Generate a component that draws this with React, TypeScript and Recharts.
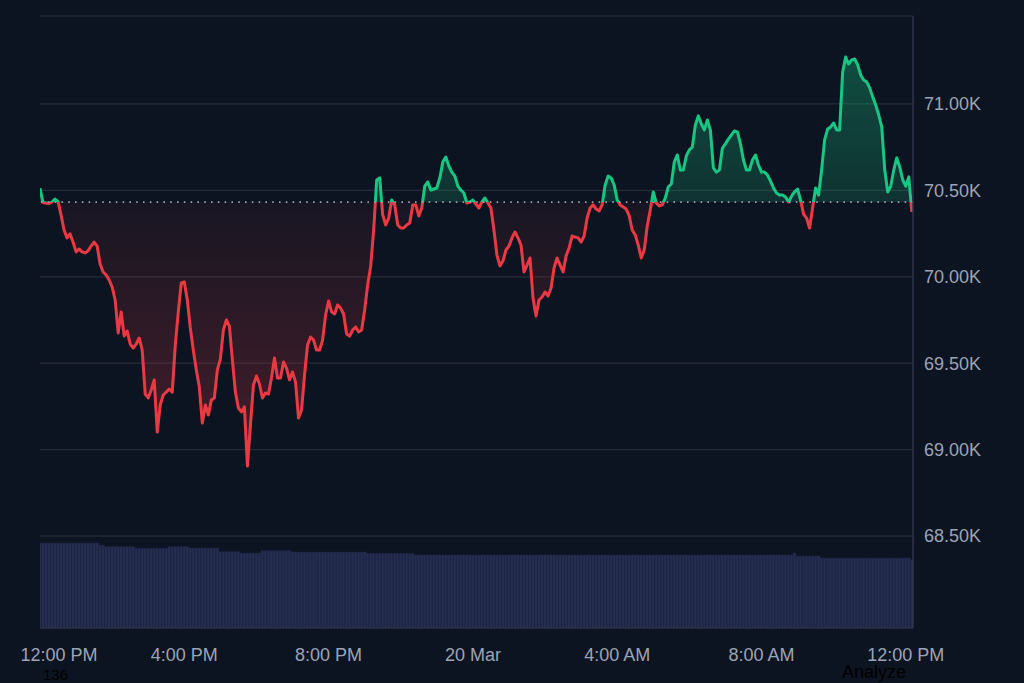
import React from "react";
import {
    ComposedChart,
    Area,
    Bar,
    XAxis,
    YAxis,
    CartesianGrid,
    ReferenceLine,
} from "recharts";

// 5-minute candles, from 12:00 PM (19 Mar) to 12:10 PM (20 Mar)
const STEP_MIN = 5;
const BASELINE = 70432;

// close prices, one row per hour (12 x 5 min)
const PRICES = [
    70512, 70430, 70427, 70424, 70433, 70450, 70435, 70358, 70271, 70225, 70248, 70201,
    70144, 70161, 70144, 70138, 70150, 70178, 70201, 70178, 70074, 70028, 70010, 69981,
    69941, 69866, 69675, 69797, 69657, 69686, 69611, 69588, 69611, 69646, 69576, 69322,
    69299, 69345, 69403, 69102, 69258, 69316, 69333, 69351, 69333, 69605, 69796, 69964,
    69970, 69866, 69704, 69576, 69461, 69362, 69154, 69258, 69200, 69287, 69299, 69461,
    69524, 69692, 69750, 69715, 69518, 69333, 69241, 69218, 69247, 68905, 69142, 69374,
    69426, 69380, 69299, 69328, 69322, 69414, 69530, 69414, 69414, 69507, 69472, 69403,
    69449, 69391, 69183, 69229, 69432, 69605, 69652, 69634, 69576, 69576, 69634, 69779,
    69860, 69797, 69785, 69837, 69819, 69785, 69669, 69657, 69692, 69710, 69681, 69692,
    69808, 69953, 70063, 70271, 70560, 70572, 70358, 70300, 70340, 70444, 70416, 70300,
    70282, 70282, 70300, 70311, 70416, 70416, 70352, 70398, 70525, 70549, 70502, 70508,
    70514, 70572, 70664, 70693, 70641, 70606, 70583, 70525, 70502, 70485, 70427, 70433,
    70444, 70421, 70398, 70433, 70456, 70427, 70398, 70271, 70126, 70063, 70091, 70155,
    70178, 70225, 70259, 70225, 70184, 70028, 70068, 70109, 69877, 69773, 69866, 69883,
    69912, 69889, 69935, 70051, 70109, 70068, 70028, 70120, 70167, 70236, 70230, 70225,
    70201, 70236, 70340, 70398, 70416, 70392, 70381, 70416, 70531, 70583, 70572, 70531,
    70444, 70416, 70404, 70392, 70352, 70271, 70242, 70184, 70109, 70155, 70294, 70387,
    70491, 70427, 70410, 70416, 70456, 70520, 70537, 70664, 70705, 70618, 70618, 70699,
    70734, 70751, 70878, 70931, 70884, 70850, 70907, 70850, 70630, 70606, 70618, 70745,
    70769, 70797, 70821, 70844, 70838, 70769, 70676, 70618, 70618, 70676, 70705, 70647,
    70606, 70606, 70589, 70554, 70514, 70485, 70473, 70473, 70462, 70433, 70467, 70491,
    70508, 70444, 70363, 70340, 70282, 70398, 70514, 70473, 70618, 70792, 70855, 70867,
    70890, 70850, 70850, 71185, 71272, 71231, 71255, 71260, 71226, 71168, 71139, 71127,
    71093, 71041, 70994, 70936, 70867, 70618, 70491, 70525, 70618, 70688, 70635, 70560,
    70525, 70578, 70375,
];

const VOLUMES = [
    1250, 1250, 1250, 1250, 1250, 1250, 1250, 1250, 1250, 1250, 1250, 1250,
    1250, 1250, 1250, 1250, 1250, 1250, 1250, 1250, 1220, 1220, 1196, 1196,
    1196, 1196, 1196, 1196, 1196, 1196, 1196, 1196, 1172, 1172, 1172, 1172,
    1172, 1172, 1172, 1172, 1172, 1172, 1172, 1196, 1196, 1196, 1196, 1196,
    1196, 1196, 1176, 1176, 1176, 1176, 1176, 1176, 1176, 1176, 1176, 1176,
    1122, 1122, 1122, 1122, 1122, 1122, 1122, 1103, 1103, 1103, 1103, 1103,
    1103, 1103, 1137, 1137, 1137, 1137, 1137, 1137, 1137, 1137, 1137, 1137,
    1118, 1118, 1118, 1118, 1118, 1118, 1118, 1118, 1118, 1118, 1118, 1118,
    1118, 1118, 1118, 1118, 1118, 1118, 1118, 1118, 1118, 1118, 1118, 1118,
    1118, 1096, 1096, 1096, 1096, 1096, 1096, 1096, 1096, 1096, 1096, 1096,
    1096, 1096, 1096, 1096, 1096, 1074, 1074, 1074, 1074, 1074, 1074, 1074,
    1074, 1074, 1074, 1074, 1074, 1074, 1074, 1074, 1074, 1074, 1074, 1074,
    1074, 1074, 1074, 1074, 1074, 1074, 1074, 1074, 1074, 1074, 1074, 1074,
    1074, 1074, 1074, 1074, 1074, 1074, 1074, 1074, 1074, 1074, 1074, 1074,
    1074, 1074, 1074, 1074, 1074, 1074, 1074, 1074, 1074, 1074, 1074, 1074,
    1074, 1074, 1074, 1074, 1074, 1074, 1074, 1074, 1074, 1074, 1074, 1074,
    1074, 1074, 1074, 1074, 1074, 1074, 1074, 1074, 1074, 1074, 1074, 1074,
    1074, 1074, 1074, 1074, 1074, 1074, 1074, 1074, 1074, 1074, 1074, 1074,
    1074, 1074, 1074, 1074, 1074, 1074, 1074, 1074, 1074, 1074, 1074, 1074,
    1074, 1074, 1074, 1074, 1074, 1074, 1074, 1074, 1074, 1074, 1074, 1074,
    1074, 1074, 1074, 1074, 1074, 1074, 1074, 1074, 1074, 1074, 1074, 1103,
    1059, 1059, 1059, 1059, 1059, 1059, 1059, 1059, 1029, 1029, 1029, 1029,
    1029, 1029, 1029, 1029, 1029, 1029, 1029, 1029, 1029, 1029, 1029, 1029,
    1029, 1029, 1029, 1029, 1029, 1029, 1029, 1029, 1029, 1029, 1029, 1029,
    1029, 1029, 1000,
];

const TIME_TICKS = [0, 240, 480, 720, 960, 1200, 1440];
const TIME_LABELS = ["12:00 PM", "4:00 PM", "8:00 PM", "20 Mar", "4:00 AM", "8:00 AM", "12:00 PM"];
const PRICE_TICKS = [68500, 69000, 69500, 70000, 70500, 71000];
const PRICE_DOMAIN = [67968, 71509];
const TIME_DOMAIN = [0, 1452];
const VOLUME_DOMAIN = [0, 9000];

const BG = "#0d1421";
const GREEN = "#16c784";
const RED = "#ea3943";
const GRID = "#262b38";
const BORDER = "#30364a";
const TEXT = "#9ca3b5";
const FONT = "'Liberation Sans', Arial, sans-serif";

const data = PRICES.map((price, i) => ({
    t: i * STEP_MIN,
    price,
    volume: VOLUMES[i],
}));

const maxPrice = Math.max(...PRICES);
const minPrice = Math.min(...PRICES);
const split = (maxPrice - BASELINE) / (maxPrice - minPrice);

function TimeTick({ x, y, payload }: any) {
    const idx = TIME_TICKS.indexOf(payload.value);
    // first label is pushed inside the pane, like the original
    const shift = idx === 0 ? 19 : 0;
    return (
        <text
            x={x + shift}
            y={y}
            dy="0.71em"
            textAnchor="middle"
            fill={TEXT}
            fontSize={18}
            fontFamily={FONT}
        >
            {TIME_LABELS[idx]}
        </text>
    );
}

export default function App() {
    return (
        <div
            style={{
                position: "fixed",
                left: 0,
                top: 0,
                width: 1024,
                height: 683,
                background: BG,
                overflow: "hidden",
            }}
        >
            <ComposedChart
                width={1024}
                height={683}
                data={data}
                margin={{ top: 16, right: 31, left: 40, bottom: 15 }}
            >
                <defs>
                    <linearGradient id="lineGrad" x1="0" y1="0" x2="0" y2="1">
                        <stop offset={0} stopColor={GREEN} />
                        <stop offset={split} stopColor={GREEN} />
                        <stop offset={split} stopColor={RED} />
                        <stop offset={1} stopColor={RED} />
                    </linearGradient>
                    <linearGradient id="fillGrad" x1="0" y1="0" x2="0" y2="1">
                        <stop offset={0} stopColor={GREEN} stopOpacity={0.32} />
                        <stop offset={split} stopColor={GREEN} stopOpacity={0.17} />
                        <stop offset={split} stopColor={RED} stopOpacity={0.05} />
                        <stop offset={1} stopColor={RED} stopOpacity={0.26} />
                    </linearGradient>
                </defs>
                <CartesianGrid
                    yAxisId="price"
                    vertical={false}
                    stroke={GRID}
                    strokeWidth={1.2}
                />
                <XAxis
                    dataKey="t"
                    type="number"
                    domain={TIME_DOMAIN}
                    ticks={TIME_TICKS}
                    tick={<TimeTick />}
                    tickLine={false}
                    tickMargin={14}
                    axisLine={{ stroke: BORDER }}
                    height={40}
                    interval={0}
                    allowDataOverflow
                />
                <XAxis
                    xAxisId="top"
                    dataKey="t"
                    type="number"
                    orientation="top"
                    domain={TIME_DOMAIN}
                    height={0}
                    tick={false}
                    tickLine={false}
                    axisLine={{ stroke: BORDER, strokeWidth: 1.5 }}
                />
                <YAxis
                    yAxisId="price"
                    orientation="right"
                    type="number"
                    domain={PRICE_DOMAIN}
                    ticks={PRICE_TICKS}
                    tickFormatter={(v: number) => `${(v / 1000).toFixed(2)}K`}
                    tick={{ fill: TEXT, fontSize: 18, fontFamily: FONT }}
                    tickLine={false}
                    tickMargin={5}
                    axisLine={{ stroke: BORDER, strokeWidth: 1.5 }}
                    width={80}
                    interval={0}
                    allowDataOverflow
                />
                <YAxis
                    yAxisId="vol"
                    orientation="left"
                    type="number"
                    domain={VOLUME_DOMAIN}
                    width={0}
                    tick={false}
                    tickLine={false}
                    axisLine={{ stroke: BORDER, strokeWidth: 1.5 }}
                    allowDataOverflow
                />
                <Bar
                    yAxisId="vol"
                    dataKey="volume"
                    fill="#252e50"
                    stroke="#1c2341"
                    strokeWidth={0.6}
                    barSize={3}
                    isAnimationActive={false}
                />
                <Area
                    yAxisId="price"
                    type="linear"
                    dataKey="price"
                    baseValue={BASELINE}
                    stroke="url(#lineGrad)"
                    strokeWidth={3}
                    strokeLinejoin="round"
                    fill="url(#fillGrad)"
                    fillOpacity={1}
                    dot={false}
                    activeDot={false}
                    isAnimationActive={false}
                />
                <ReferenceLine
                    yAxisId="price"
                    y={BASELINE}
                    stroke="#9aa0b0"
                    strokeWidth={1.6}
                    strokeDasharray="1.6 5.2"
                />
            </ComposedChart>
            <div
                style={{
                    position: "absolute",
                    left: 43,
                    top: 667,
                    height: 15,
                    color: "#000",
                    fontSize: 15,
                    lineHeight: "15px",
                    fontFamily: FONT,
                }}
            >
                136
            </div>
            <div
                style={{
                    position: "absolute",
                    left: 842,
                    top: 663,
                    color: "#000",
                    fontSize: 18,
                    lineHeight: 1,
                    fontFamily: FONT,
                }}
            >
                Analyze
            </div>
        </div>
    );
}
